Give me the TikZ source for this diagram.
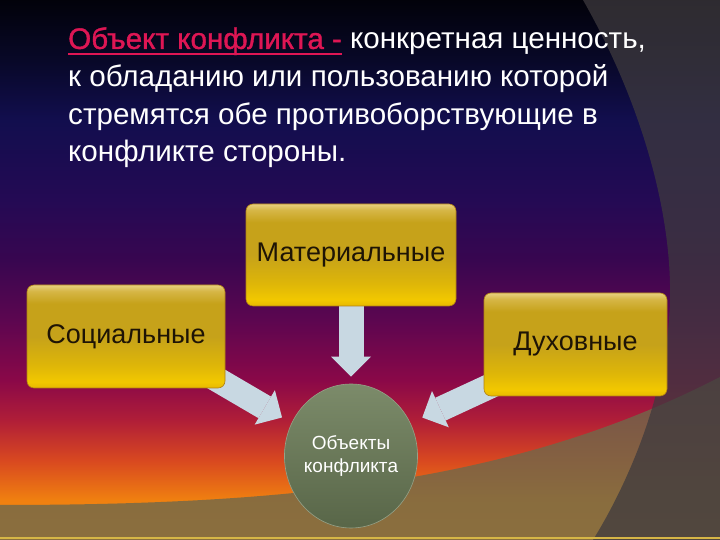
\documentclass[tikz,border=0pt]{standalone}
\usepackage{fontspec}
\setmainfont{Liberation Sans}
\newfontfamily\boldish[FakeBold=1.2]{Liberation Sans}
\usetikzlibrary{
    calc,
    arrows.meta,
    shapes.geometric
}
\definecolor{sky0}{RGB}{2,2,10}
\definecolor{sky1}{RGB}{8,8,40}
\definecolor{sky2}{RGB}{18,14,78}
\definecolor{sky3}{RGB}{36,10,84}
\definecolor{sky4}{RGB}{56,6,80}
\definecolor{sky5}{RGB}{92,6,80}
\definecolor{sky6}{RGB}{138,8,72}
\definecolor{sky7}{RGB}{176,30,56}
\definecolor{sky8}{RGB}{216,72,32}
\definecolor{sky9}{RGB}{240,128,16}
\definecolor{sky10}{RGB}{245,140,16}
\definecolor{gold0}{RGB}{232,208,128}
\definecolor{gold1}{RGB}{214,182,70}
\definecolor{gold2}{RGB}{198,162,26}
\definecolor{gold3}{RGB}{222,182,8}
\definecolor{gold4}{RGB}{242,200,0}
\definecolor{gold5}{RGB}{232,184,0}
\definecolor{goldedge}{RGB}{176,128,20}
\definecolor{crim}{RGB}{222,22,84}
\definecolor{pale}{RGB}{200,216,226}
\definecolor{dune}{RGB}{112,104,74}
\definecolor{shadow}{RGB}{62,58,62}
\definecolor{olive1}{RGB}{124,139,106}
\definecolor{olive2}{RGB}{88,102,72}
\definecolor{ink}{RGB}{30,20,5}
\pgfdeclareverticalshading{sky}{100bp}{color(0bp)=(sky10); color(25bp)=(sky10);
    color(28.7bp)=(sky9); color(32.4bp)=(sky8); color(36.1bp)=(sky7); color(39.8bp)=(sky6);
    color(45.4bp)=(sky5); color(50.9bp)=(sky4); color(56.5bp)=(sky3); color(63.9bp)=(sky2);
    color(69.4bp)=(sky1); color(75bp)=(sky0); color(100bp)=(sky0)}
\pgfdeclareverticalshading{goldbox}{100bp}{color(0bp)=(gold5); color(25bp)=(gold5);
    color(28bp)=(gold4); color(36bp)=(gold3); color(50bp)=(gold2); color(66bp)=(gold2);
    color(72bp)=(gold1); color(75bp)=(gold0); color(100bp)=(gold0)}
\pgfdeclarelayer{back}
\pgfdeclarelayer{mid}
\pgfsetlayers{back,mid,main}
\newcommand\redul[1]{\setbox0\hbox{#1}\rlap{\rule[-6pt]{\wd0}{1.8pt}}\box0}
\tikzset{
    gbox/.style={rectangle, rounded corners=7pt, shade, shading=goldbox, draw=goldedge,
        line width=0.6pt, minimum width=210pt, minimum height=102pt, text=ink,
        font=\fontsize{27}{32}\selectfont},
    objnode/.style={ellipse, top color=olive1, bottom color=olive2, draw=olive1!80!white,
        line width=0.6pt, minimum width=132pt, minimum height=144pt, inner sep=0pt,
        text=white, align=center, font=\fontsize{19}{23}\selectfont},
    blockarrow/.style={draw=pale, line width=25pt,
        -{Triangle[width=40pt,length=20pt,line width=0pt]}}
}

\begin{document}
\begin{tikzpicture}[x=1pt,y=1pt]
    \useasboundingbox (0,0) rectangle (720,540);
    \begin{pgfonlayer}{back}
        \shade[shading=sky] (0,0) rectangle (720,540);
        \fill[dune, opacity=0.8] (0,35) .. controls (300,35) and (520,60) .. (720,163)
            -- (720,0) -- (0,0) -- cycle;
        \fill[shadow, opacity=0.75] (583,540) .. controls (640,440) and (672,330) .. (670,240)
            .. controls (668,150) and (630,60) .. (593,0) -- (720,0) -- (720,540) -- cycle;
        \draw[gold1, line width=1.5pt] (0,2) -- (720,2);
    \end{pgfonlayer}

    \node[anchor=north west, inner sep=0pt, align=left, text=white,
        font=\fontsize{29.6}{37.6}\selectfont] (head) at (68,513)
        {{\boldish\color{crim}\redul{Объект конфликта -}} конкретная ценность,\\
         к обладанию или пользованию которой\\
         стремятся обе противоборствующие в\\
         конфликте стороны.};

    \node[gbox] (mat) at (351,285) {Материальные};
    \node[gbox, minimum width=198pt, minimum height=103pt] (soc) at (126,203.5) {Социальные};
    \node[gbox, minimum width=183pt, minimum height=103pt] (dukh) at (575.5,195.5) {Духовные};
    \node[objnode] (obj) at (351,84) {Объекты\\конфликта};

    \begin{pgfonlayer}{mid}
        \draw[blockarrow, shorten >=7pt] (mat.center) -- (obj.north);
        \draw[blockarrow, shorten >=11pt] ($(soc.south east)+(-29,21)$) -- (obj.151);
        \draw[blockarrow, shorten >=13pt] ($(dukh.south west)+(19,16)$) -- (obj.29);
    \end{pgfonlayer}
\end{tikzpicture}
\end{document}
